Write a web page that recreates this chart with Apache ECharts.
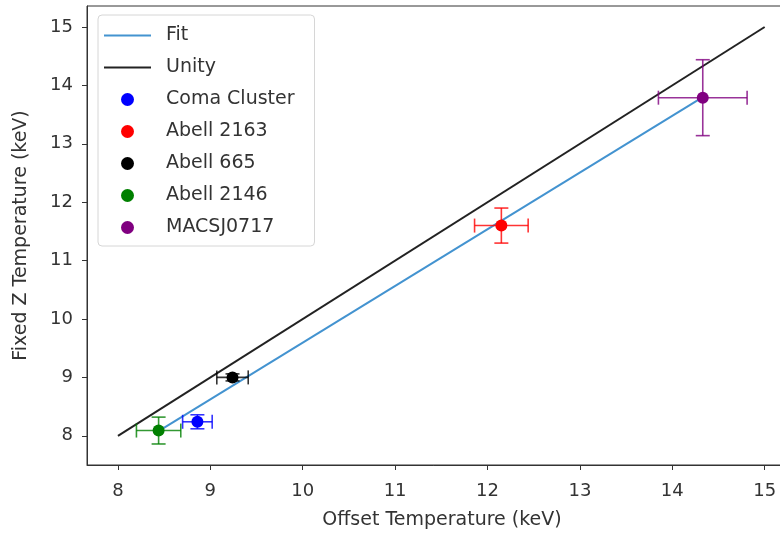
<!DOCTYPE html>
<html>
<head>
<meta charset="utf-8">
<script src="https://cdn.jsdelivr.net/npm/echarts@6/dist/echarts.min.js"></script>
<style>
  html, body { margin: 0; padding: 0; background: #fff; }
  #chart { width: 780px; height: 536px; }
</style>
</head>
<body>
<div id="chart"></div>
<script>
// cluster data
var clusters = ['Coma Cluster', 'Abell 2163', 'Abell 665', 'Abell 2146', 'MACSJ0717'];
var colors = ['#0000ff', '#ff0000', '#000000', '#008000', '#800080'];
var offsetT = [8.86, 12.15, 9.24, 8.44, 14.33];
var fixedT = [8.24, 11.6, 9.0, 8.09, 13.79];
var offsetErr = [0.16, 0.29, 0.17, 0.24, 0.48];
var fixedErr = [0.12, 0.3, 0.06, 0.23, 0.65];

var fitX = [8.44, 14.33];
var fitY = [8.08, 13.8];
var unityX = [8, 15];
var unityY = [8, 15];

var xTicks = [8, 9, 10, 11, 12, 13, 14, 15];
var yTicks = [8, 9, 10, 11, 12, 13, 14, 15];

var font = 'DejaVu Sans';
var myChart = echarts.init(document.getElementById('chart'));

function pairs(xs, ys) {
    return xs.map(function (x, i) { return [x, ys[i]]; });
}

var series = [];

series.push({
    name: 'Fit',
    type: 'line',
    data: pairs(fitX, fitY),
    symbol: 'none',
    lineStyle: { color: '#4393d0', width: 2 },
    itemStyle: { color: '#4393d0' },
    z: 2
});
series.push({
    name: 'Unity',
    type: 'line',
    data: pairs(unityX, unityY),
    symbol: 'none',
    lineStyle: { color: '#222222', width: 2 },
    itemStyle: { color: '#222222' },
    z: 2
});

// error bars, one custom series per cluster
clusters.forEach(function (name, i) {
    series.push({
        name: name + ' err',
        type: 'custom',
        data: [[offsetT[i], fixedT[i], offsetErr[i], fixedErr[i]]],
        z: 3,
        renderItem: function (params, api) {
            var x = api.value(0), y = api.value(1);
            var xe = api.value(2), ye = api.value(3);
            var l = api.coord([x - xe, y]);
            var r = api.coord([x + xe, y]);
            var t = api.coord([x, y + ye]);
            var b = api.coord([x, y - ye]);
            var cap = 7;
            var st = { stroke: colors[i], lineWidth: 1.6, opacity: 0.8 };
            function ln(x1, y1, x2, y2) {
                return { type: 'line', shape: { x1: x1, y1: y1, x2: x2, y2: y2 }, style: st };
            }
            return {
                type: 'group',
                children: [
                    ln(l[0], l[1], r[0], r[1]),
                    ln(t[0], t[1], b[0], b[1]),
                    ln(l[0], l[1] - cap, l[0], l[1] + cap),
                    ln(r[0], r[1] - cap, r[0], r[1] + cap),
                    ln(t[0] - cap, t[1], t[0] + cap, t[1]),
                    ln(b[0] - cap, b[1], b[0] + cap, b[1])
                ]
            };
        }
    });
});

clusters.forEach(function (name, i) {
    series.push({
        name: name,
        type: 'scatter',
        data: [[offsetT[i], fixedT[i]]],
        symbol: 'circle',
        symbolSize: 12,
        itemStyle: { color: colors[i], opacity: 1 },
        z: 4
    });
});

var option = {
    backgroundColor: '#ffffff',
    animation: false,
    textStyle: { fontFamily: font },
    grid: {
        left: 87,
        top: 6,
        bottom: 71,
        right: -17,
        show: true,
        borderColor: '#333333',
        borderWidth: 1,
        containLabel: false,
        outerBoundsMode: 'none'
    },
    legend: {
        left: 98,
        top: 15,
        orient: 'vertical',
        data: [
            { name: 'Fit', itemStyle: { opacity: 0 } },
            { name: 'Unity', itemStyle: { opacity: 0 } }
        ].concat(clusters.map(function (n) { return { name: n, icon: 'circle' }; })),
        itemWidth: 47,
        itemHeight: 13,
        itemGap: 13,
        padding: [11, 20, 9, 5],
        backgroundColor: '#ffffff',
        borderColor: '#d6d6d6',
        borderWidth: 1,
        borderRadius: 4,
        selectedMode: false,
        textStyle: {
            fontFamily: font,
            fontSize: 19,
            color: '#333333',
            padding: [0, 0, 0, 10]
        }
    },
    xAxis: {
        type: 'value',
        min: 7.665,
        max: 15.35,
        name: 'Offset Temperature (keV)',
        nameLocation: 'middle',
        nameGap: 46,
        nameTextStyle: { fontFamily: font, fontSize: 19, color: '#333333' },
        axisLine: { show: true, lineStyle: { color: '#333333' } },
        axisTick: { show: true, length: 5, customValues: xTicks, lineStyle: { color: '#333333' } },
        axisLabel: { customValues: xTicks, fontFamily: font, fontSize: 18, color: '#333333', margin: 17 },
        splitLine: { show: false }
    },
    yAxis: {
        type: 'value',
        min: 7.5,
        max: 15.36,
        name: 'Fixed Z Temperature (keV)',
        nameLocation: 'middle',
        nameGap: 56,
        nameTextStyle: { fontFamily: font, fontSize: 19, color: '#333333' },
        axisLine: { show: true, lineStyle: { color: '#333333' } },
        axisTick: { show: true, length: 5, customValues: yTicks, lineStyle: { color: '#333333' } },
        axisLabel: { customValues: yTicks, fontFamily: font, fontSize: 18, color: '#333333', margin: 14 },
        splitLine: { show: false }
    },
    series: series
};

myChart.setOption(option);
</script>
</body>
</html>
